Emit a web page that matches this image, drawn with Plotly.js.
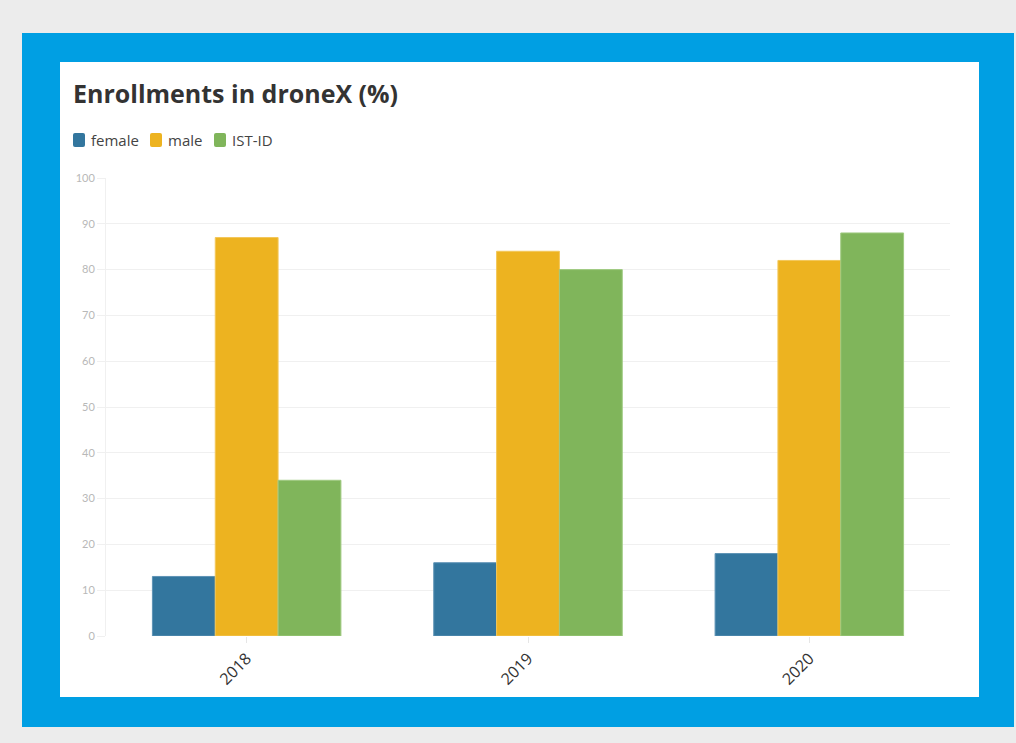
<!DOCTYPE html>
<html>
<head>
<meta charset="utf-8">
<script src="https://cdn.plot.ly/plotly-3.0.1.min.js"></script>
<style>
  html, body { margin: 0; padding: 0; background: #ececec; width: 1016px; height: 743px; overflow: hidden; }
  #frame { position: absolute; left: 22px; top: 33px; width: 992px; height: 694px; background: #009fe3; }
  #panel { position: absolute; left: 38px; top: 29px; width: 919px; height: 635px; background: #ffffff; }
  #chart { width: 919px; height: 635px; }
</style>
</head>
<body>
<div id="frame"><div id="panel"><div id="chart"></div></div></div>
<script>
// ---- data ----
const years = ['2018', '2019', '2020'];
const seriesNames = ['female', 'male', 'IST-ID'];
const female = [13, 16, 18];
const male = [87, 84, 82];
const istId = [34, 80, 88];
const yTicks = [0, 10, 20, 30, 40, 50, 60, 70, 80, 90, 100];

// ---- styles ----
const colors = ['#33769e', '#edb320', '#80b55b'];
const lineColors = ['#5e93b5', '#f3c75a', '#9fca81'];
const W = 919, H = 635;
const M = {l: 46, r: 29, t: 116, b: 61};
const PW = W - M.l - M.r;
const PH = H - M.t - M.b;
const px2x = p => (p - M.l) / PW;
const py2y = p => 1 - (p - M.t) / PH;

const values = [female, male, istId];
const traces = seriesNames.map((name, i) => ({
  type: 'bar',
  name: name,
  x: years,
  y: values[i],
  marker: {color: colors[i], line: {color: lineColors[i], width: 1}},
  showlegend: false,
  hoverinfo: 'x+y+name'
}));

// custom compact legend
const shapes = [];
const annotations = [];
const legendX = [13, 90, 154];
seriesNames.forEach((name, i) => {
  const x0 = legendX[i], x1 = x0 + 12, y0 = 71, y1 = 85, r = 2;
  shapes.push({
    type: 'path', xref: 'paper', yref: 'paper',
    path: `M ${px2x(x0 + r)} ${py2y(y0)} L ${px2x(x1 - r)} ${py2y(y0)} Q ${px2x(x1)} ${py2y(y0)} ${px2x(x1)} ${py2y(y0 + r)} L ${px2x(x1)} ${py2y(y1 - r)} Q ${px2x(x1)} ${py2y(y1)} ${px2x(x1 - r)} ${py2y(y1)} L ${px2x(x0 + r)} ${py2y(y1)} Q ${px2x(x0)} ${py2y(y1)} ${px2x(x0)} ${py2y(y1 - r)} L ${px2x(x0)} ${py2y(y0 + r)} Q ${px2x(x0)} ${py2y(y0)} ${px2x(x0 + r)} ${py2y(y0)} Z`,
    fillcolor: colors[i], line: {width: 0}
  });
  annotations.push({
    xref: 'paper', yref: 'paper', x: px2x(x1 + 4), y: py2y(78),
    xanchor: 'left', yanchor: 'middle', showarrow: false,
    text: name, font: {family: '"Open Sans", sans-serif', size: 15, color: '#444'}
  });
});

const layout = {
  width: W, height: H,
  margin: M,
  paper_bgcolor: '#ffffff',
  plot_bgcolor: '#ffffff',
  font: {family: 'Lato, sans-serif'},
  title: {
    text: '<b>Enrollments in droneX (%)</b>',
    xref: 'container', yref: 'container',
    x: 13 / W, xanchor: 'left',
    y: 1 - 32 / H, yanchor: 'middle',
    font: {family: '"Open Sans", sans-serif', size: 25, color: '#333'}
  },
  barmode: 'group',
  bargap: 0.33,
  bargroupgap: 0,
  xaxis: {
    type: 'category',
    tickangle: -45,
    tickfont: {family: '"Open Sans", sans-serif', size: 16, color: '#333'},
    ticks: 'outside', ticklen: 6, tickcolor: '#e6e6e6',
    showline: false,
    showgrid: false,
    zeroline: false
  },
  yaxis: {
    range: [0, 100],
    tickvals: yTicks,
    ticktext: yTicks.map(String),
    tickfont: {size: 11, color: '#b8b8b8'},
    ticks: 'outside', ticklen: 8, tickcolor: '#f0f0f0',
    showgrid: true, gridcolor: '#f0f0f0', gridwidth: 1,
    showline: true, linecolor: '#f0f0f0', linewidth: 1,
    zeroline: false
  },
  shapes: shapes,
  annotations: annotations
};

Plotly.newPlot('chart', traces, layout, {displayModeBar: false, staticPlot: true});
</script>
</body>
</html>
